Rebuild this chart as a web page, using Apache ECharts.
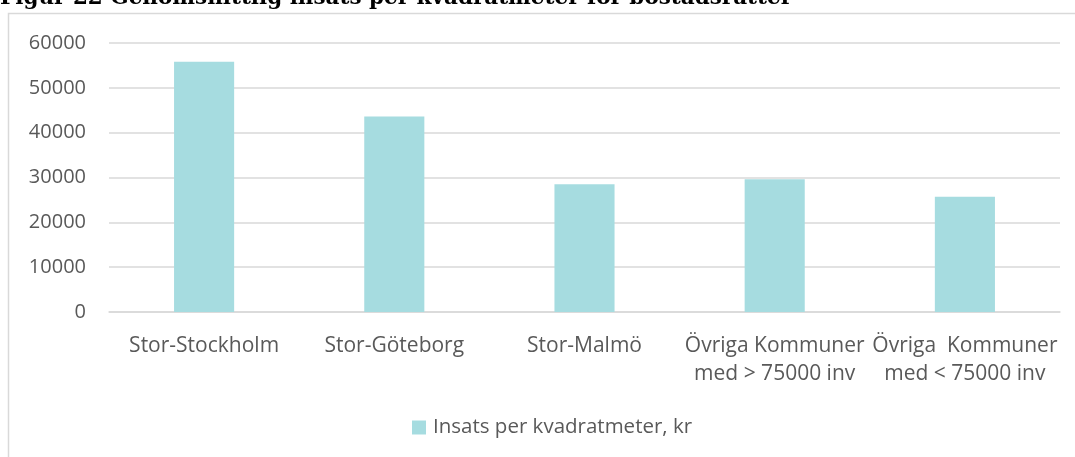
<!DOCTYPE html>
<html>
<head>
<meta charset="utf-8">
<script src="https://cdn.jsdelivr.net/npm/echarts@6/dist/echarts.min.js"></script>
<style>
  html, body { margin: 0; padding: 0; background: #fff; }
  #chart { width: 1075px; height: 457px; }
</style>
</head>
<body>
<div id="chart"></div>
<script>
const titleText = "Figur 22 Genomsnittlig insats per kvadratmeter för bostadsrätter";
const categories = [
    "Stor-Stockholm",
    "Stor-Göteborg",
    "Stor-Malmö",
    "Övriga Kommuner\nmed > 75000 inv",
    "Övriga  Kommuner\nmed < 75000 inv",
];
const seriesName = "Insats per kvadratmeter, kr";
const insatsValues = [55800, 43600, 28500, 29600, 25700];
const yTicks = [0, 10000, 20000, 30000, 40000, 50000, 60000];

const labelColor = "#595959";
const barColor = "#a6dce0";
const labelFont = "Open Sans";

const chart = echarts.init(document.getElementById("chart"));

const option = {
    animation: false,
    graphic: [
        {
            type: "rect",
            z: -10,
            shape: { x: 8.5, y: 13.5, width: 1200, height: 600 },
            style: { fill: "#fff", stroke: "#d9d9d9", lineWidth: 1.5 },
            silent: true,
        },
        {
            type: "text",
            left: 0,
            top: -13,
            style: {
                text: titleText,
                font: "bold 21.5px 'DejaVu Serif'",
                fill: "#000",
            },
        },
    ],
    grid: {
        top: 43,
        left: 109,
        right: 15,
        bottom: 145,
    },
    legend: {
        data: [seriesName],
        top: 417,
        left: 412,
        padding: 0,
        itemWidth: 14,
        itemHeight: 14,
        itemGap: 7,
        icon: "rect",
        textStyle: { color: labelColor, fontFamily: labelFont, fontSize: 20.5, padding: [0, 0, 0, 2] },
    },
    xAxis: {
        type: "category",
        data: categories,
        axisLine: { show: true, lineStyle: { color: "#d9d9d9", width: 1.5 } },
        axisTick: { show: false },
        axisLabel: {
            color: labelColor,
            fontFamily: labelFont,
            fontSize: 21,
            margin: 20,
            lineHeight: 28,
            interval: 0,
        },
    },
    yAxis: {
        type: "value",
        min: yTicks[0],
        max: yTicks[yTicks.length - 1],
        interval: 10000,
        axisLine: { show: false },
        axisTick: { show: false },
        splitLine: { lineStyle: { color: "#d9d9d9", width: 1.5 } },
        axisLabel: {
            color: labelColor,
            fontFamily: labelFont,
            fontSize: 20,
            margin: 23,
            formatter: (v) => String(v),
        },
    },
    series: [
        {
            name: seriesName,
            type: "bar",
            data: insatsValues,
            barWidth: "31.6%",
            itemStyle: { color: barColor },
        },
    ],
};

chart.setOption(option);
</script>
</body>
</html>
